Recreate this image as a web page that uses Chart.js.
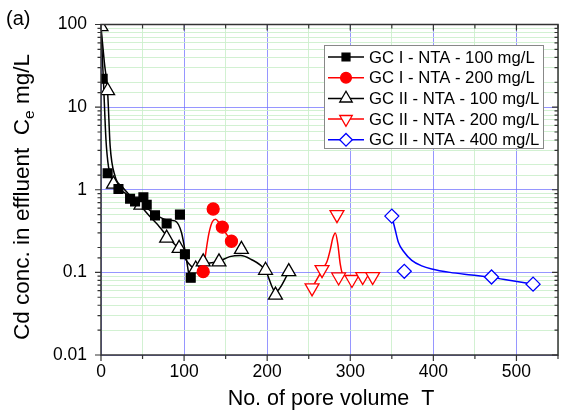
<!DOCTYPE html>
<html>
<head>
<meta charset="utf-8">
<script src="https://cdn.jsdelivr.net/npm/chart.js@4"></script>
<style>
  html, body { margin: 0; padding: 0; background: #fff; }
  #wrap { width: 568px; height: 416px; }
</style>
</head>
<body>
<div id="wrap"><canvas id="chart" width="568" height="416"></canvas></div>
<script>
// -- dados medidos (pontos) --
const sqX = [2, 8, 21, 35, 41, 51, 55, 65, 79, 95, 101, 108];
const sqY = [22, 1.58, 1.02, 0.78, 0.72, 0.81, 0.66, 0.49, 0.39, 0.5, 0.166, 0.086];

const circX = [123, 135, 146, 157];
const circY = [0.102, 0.585, 0.353, 0.238];

const triX = [0, 8, 15, 48, 79, 94, 114, 123, 142, 169, 198, 210, 226];
const triY = [94, 15.8, 1.17, 0.65, 0.26, 0.195, 0.11, 0.134, 0.134, 0.19, 0.106, 0.053, 0.102];

const invX = [254, 266, 284, 286, 302, 315, 327];
const invY = [0.065, 0.108, 0.5, 0.088, 0.082, 0.089, 0.089];

const diaX = [350, 365, 470, 520];
const diaY = [0.48, 0.103, 0.088, 0.072];

// -- curvas ajustadas --
const fit1X = [0, 3, 6, 9, 13, 20, 30, 40, 50, 60, 70, 80, 89, 97, 103, 106];
const fit1Y = [90, 20, 4, 1.9, 1.35, 1.05, 0.9, 0.75, 0.66, 0.55, 0.47, 0.43, 0.42, 0.3, 0.14, 0.09];

const fit2X = [123, 126, 130, 134, 138, 142, 146, 151, 157];
const fit2Y = [0.102, 0.17, 0.3, 0.41, 0.44, 0.4, 0.35, 0.29, 0.24];

const fit3X = [0, 4, 8, 11, 17, 25, 35, 48, 60, 70, 80, 94, 105, 114, 123, 141, 155, 168, 180, 198, 210, 226];
const fit3Y = [94, 35, 15, 3.4, 1.45, 1.1, 0.85, 0.63, 0.46, 0.36, 0.27, 0.19, 0.13, 0.11, 0.125, 0.135, 0.155, 0.16, 0.145, 0.105, 0.058, 0.1];

const fit4X = [254, 262, 268, 272, 276, 279, 282, 285, 288, 291, 302, 315, 327];
const fit4Y = [0.065, 0.09, 0.115, 0.135, 0.19, 0.26, 0.3, 0.22, 0.125, 0.095, 0.088, 0.09, 0.09];

const fit5X = [350, 354, 358, 364, 374, 386, 398, 420, 446, 470, 495, 520];
const fit5Y = [0.48, 0.33, 0.23, 0.18, 0.14, 0.12, 0.11, 0.1, 0.093, 0.087, 0.079, 0.072];

const xTicks = [0, 100, 200, 300, 400, 500];
const yTicks = ['0.01', '0.1', '1', '10', '100'];

const seriesNames = [
    'GC I - NTA - 100 mg/L',
    'GC I - NTA - 200 mg/L',
    'GC II - NTA - 100 mg/L',
    'GC II - NTA - 200 mg/L',
    'GC II - NTA - 400 mg/L'
];

const FONT = '"Liberation Sans", Arial, sans-serif';
const BLUE_GRID = 'rgba(115,115,255,0.75)';
const GREEN_GRID = 'rgba(205,240,205,0.9)';

function pts(xs, ys) {
    return xs.map((x, i) => ({ x: x, y: ys[i] }));
}

// estilos dos marcadores
const markers = [
    { color: '#000', fill: '#000', style: 'rect', radius: 6.2, rotation: 0 },
    { color: '#f00', fill: '#f00', style: 'circle', radius: 6, rotation: 0 },
    { color: '#000', fill: '#fff', style: 'triangle', radius: 8, rotation: 0 },
    { color: '#f00', fill: '#fff', style: 'triangle', radius: 8, rotation: 180 },
    { color: '#00f', fill: '#fff', style: 'rectRot', radius: 7, rotation: 0 }
];

const pointSets = [pts(sqX, sqY), pts(circX, circY), pts(triX, triY), pts(invX, invY), pts(diaX, diaY)];
const fitSets = [pts(fit1X, fit1Y), pts(fit2X, fit2Y), pts(fit3X, fit3Y), pts(fit4X, fit4Y), pts(fit5X, fit5Y)];

const datasets = [];
fitSets.forEach((d, i) => {
    datasets.push({
        label: seriesNames[i] + ' fit',
        data: d,
        showLine: true,
        borderColor: markers[i].color,
        borderWidth: 1.5,
        pointRadius: 0,
        cubicInterpolationMode: 'monotone',
        order: 2
    });
});
pointSets.forEach((d, i) => {
    const m = markers[i];
    datasets.push({
        label: seriesNames[i],
        data: d,
        showLine: false,
        pointStyle: m.style,
        pointRadius: m.radius,
        pointRotation: m.rotation,
        pointBackgroundColor: m.fill,
        pointBorderColor: m.color,
        pointBorderWidth: 1.3,
        order: 1
    });
});

function isDecade(v) {
    const l = Math.log10(v);
    return Math.abs(l - Math.round(l)) < 1e-6;
}

// moldura, ticks e textos
const framePlugin = {
    id: 'frame',
    afterDatasetsDraw(chart) {
        const { ctx, chartArea: a, scales } = chart;
        ctx.save();
        ctx.strokeStyle = '#333';
        ctx.lineWidth = 1.5;
        ctx.strokeRect(a.left, a.top, a.right - a.left, a.bottom - a.top);

        ctx.lineWidth = 1.2;
        ctx.beginPath();
        scales.x.ticks.forEach(t => {
            const px = scales.x.getPixelForValue(t.value);
            const len = t.value % 100 === 0 ? 6 : 4;
            ctx.moveTo(px, a.bottom); ctx.lineTo(px, a.bottom + len);
            ctx.moveTo(px, a.top); ctx.lineTo(px, a.top + len);
        });
        scales.y.ticks.forEach(t => {
            const py = scales.y.getPixelForValue(t.value);
            const len = isDecade(t.value) ? 6 : 3.5;
            ctx.moveTo(a.left, py); ctx.lineTo(a.left - len, py);
            ctx.moveTo(a.right, py); ctx.lineTo(a.right - len, py);
        });
        ctx.stroke();
        ctx.restore();
    },
    afterDraw(chart) {
        const { ctx, chartArea: a } = chart;
        ctx.save();
        ctx.fillStyle = '#000';

        // (a)
        ctx.font = '20px ' + FONT;
        ctx.textAlign = 'left';
        ctx.textBaseline = 'middle';
        ctx.fillText('(a)', 6, 19);

        // titulo eixo x
        ctx.font = '21.5px ' + FONT;
        ctx.textAlign = 'center';
        ctx.fillText('No. of pore volume  T', 331, 399);

        // titulo eixo y com subscrito
        const p1 = 'Cd conc. in effluent  C';
        const p2 = 'e';
        const p3 = ' mg/L';
        ctx.font = '22.5px ' + FONT;
        const w1 = ctx.measureText(p1).width;
        const w3 = ctx.measureText(p3).width;
        ctx.font = '15.5px ' + FONT;
        const w2 = ctx.measureText(p2).width;
        const total = w1 + w2 + w3;
        ctx.translate(23, 197);
        ctx.rotate(-Math.PI / 2);
        ctx.textAlign = 'left';
        ctx.textBaseline = 'middle';
        const x0 = -total / 2;
        ctx.font = '22.5px ' + FONT;
        ctx.fillText(p1, x0, 0);
        ctx.font = '15.5px ' + FONT;
        ctx.fillText(p2, x0 + w1, 7);
        ctx.font = '22.5px ' + FONT;
        ctx.fillText(p3, x0 + w1 + w2, 0);
        ctx.restore();

        // legenda dentro do grafico
        ctx.save();
        const bx = 324, by = 45, bw = 219, bh = 103;
        ctx.fillStyle = '#fff';
        ctx.fillRect(bx, by, bw, bh);
        ctx.strokeStyle = '#888';
        ctx.lineWidth = 1;
        ctx.strokeRect(bx + 0.5, by + 0.5, bw, bh);
        ctx.font = '16.7px ' + FONT;
        ctx.textAlign = 'left';
        ctx.textBaseline = 'middle';
        seriesNames.forEach((name, i) => {
            const m = markers[i];
            const yy = by + 12 + i * 20.7;
            ctx.strokeStyle = m.color;
            ctx.lineWidth = 1.5;
            ctx.beginPath();
            ctx.moveTo(bx + 4, yy);
            ctx.lineTo(bx + 40, yy);
            ctx.stroke();
            ctx.fillStyle = m.fill;
            ctx.strokeStyle = m.color;
            ctx.lineWidth = 1.3;
            Chart.helpers.drawPoint(ctx, {
                pointStyle: m.style, radius: m.radius * 0.9, rotation: m.rotation, borderWidth: 1.3
            }, bx + 22, yy);
            ctx.fillStyle = '#000';
            ctx.fillText(name, bx + 45, yy + 1);
        });
        ctx.restore();
    }
};

window.onload = () => {
    const ctx = document.getElementById('chart').getContext('2d');
    new Chart(ctx, {
        type: 'scatter',
        data: { datasets: datasets },
        plugins: [framePlugin],
        options: {
            responsive: false,
            animation: false,
            layout: { padding: { top: 19, right: 10, left: 0, bottom: 0 } },
            plugins: { legend: { display: false }, tooltip: { enabled: false } },
            scales: {
                x: {
                    type: 'linear',
                    min: 0,
                    max: 550,
                    afterFit: s => { s.height = 61; },
                    border: { display: false },
                    grid: {
                        drawTicks: false,
                        lineWidth: 1,
                        color: c => (c.tick && c.tick.value % 100 === 0) ? BLUE_GRID : GREEN_GRID
                    },
                    ticks: {
                        stepSize: 50,
                        autoSkip: false,
                        maxRotation: 0,
                        padding: 7,
                        color: '#000',
                        font: { family: FONT, size: 17.5 },
                        callback: v => xTicks.includes(v) ? String(v) : ''
                    }
                },
                y: {
                    type: 'logarithmic',
                    min: 0.01,
                    max: 100,
                    afterFit: s => { s.width = 101; },
                    border: { display: false },
                    grid: {
                        drawTicks: false,
                        lineWidth: 1,
                        color: c => (c.tick && isDecade(c.tick.value)) ? BLUE_GRID : GREEN_GRID
                    },
                    ticks: {
                        autoSkip: false,
                        padding: 14,
                        color: '#000',
                        font: { family: FONT, size: 17.5 },
                        callback: v => isDecade(v) ? yTicks[Math.round(Math.log10(v)) + 2] : ''
                    }
                }
            }
        }
    });
};
</script>
</body>
</html>
